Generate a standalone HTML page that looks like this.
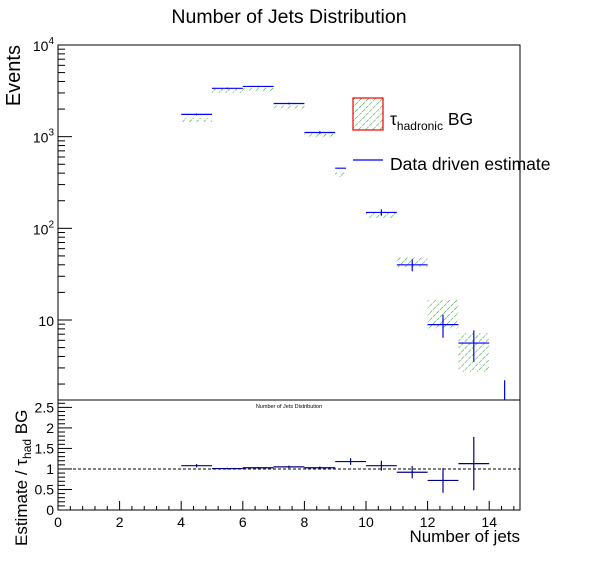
<!DOCTYPE html>
<html><head><meta charset="utf-8"><style>
body{margin:0;background:#fff;}
svg{display:block;font-family:"Liberation Sans",sans-serif;}
</style></head><body>
<svg id="c" width="596" height="572">
<defs><pattern id="hatch" patternUnits="userSpaceOnUse" width="5" height="5" patternTransform="rotate(45)"><line x1="0" y1="0" x2="0" y2="5" stroke="#229922" stroke-width="1" stroke-dasharray="3 1"/></pattern></defs>
<text x="289" y="23" text-anchor="middle" font-size="19.5">Number of Jets Distribution</text>
<text transform="translate(20,45) rotate(-90)" text-anchor="end" font-size="20">Events</text>
<text transform="translate(27,546) rotate(-90)" font-size="17">Estimate / τ<tspan font-size="12" dy="4">had</tspan><tspan dy="-4"> BG</tspan></text>
<text x="520" y="542" text-anchor="end" font-size="17">Number of jets</text>
<text x="289" y="408" text-anchor="middle" font-size="5.5">Number of Jets Distribution</text>
<g id="main"></g><g id="ratio"></g>
<rect x="346" y="86" width="250" height="96" fill="#fff"/>
<line x1="520" y1="86" x2="520" y2="182" stroke="#000"/>
<rect x="353" y="98" width="30" height="32" fill="url(#hatch)" stroke="#e00" stroke-width="1.2"/>
<text x="390" y="125" font-size="17.5">τ<tspan font-size="12" dy="5">hadronic</tspan><tspan dy="-5"> BG</tspan></text>
<line x1="353" y1="160" x2="383" y2="160" stroke="#00f" stroke-width="1.2"/>
<text x="390" y="170" font-size="17.5">Data driven estimate</text>
</svg>
<script>
const bins=[4,5,6,7,8,9,10,11,12,13,14];
const estimate=[1750,3370,3530,2300,1110,453,149,40,8.9,5.6,1.0];
const estimateErr=[40,60,60,50,35,22,12,6,2.5,2.1,1.2];
const bgValues=[1600,3330,3450,2200,1080,385,138,43,12.4,4.95];
const bgRelErr=[0.04,0.03,0.03,0.04,0.04,0.06,0.07,0.12,0.35,0.45];
const ratio=[1.08,1.01,1.03,1.05,1.03,1.18,1.08,0.92,0.72,1.13];
const ratioErr=[0.04,0.02,0.02,0.03,0.03,0.08,0.12,0.15,0.3,0.65];
const NS="http://www.w3.org/2000/svg";
const X0=58,X1=520,T=45,B=400,RT=400,RB=510;
const ymin=Math.log10(1.34),ymax=4,rmax=2.68;
const sx=v=>X0+(X1-X0)*v/15;
const sy=v=>B-(B-T)*(Math.log10(Math.max(v,1e-3))-ymin)/(ymax-ymin);
const ry=v=>RB-(RB-RT)*v/rmax;
function mk(p,tag,a){const e=document.createElementNS(NS,tag);for(const k in a)e.setAttribute(k,a[k]);p.appendChild(e);return e;}
const m=document.getElementById('main'),r=document.getElementById('ratio');
const clipM=mk(m,'clipPath',{id:'cm'});mk(clipM,'rect',{x:X0,y:T,width:X1-X0,height:B-T});
const gm=mk(m,'g',{'clip-path':'url(#cm)'});
bgValues.forEach((v,i)=>{
 let y1=sy(v*(1+bgRelErr[i])),y2=sy(v*(1-bgRelErr[i]));
 if(y2-y1<4){y1=sy(v);y2=y1+4;}
 const e=mk(gm,'rect',{x:sx(bins[i]),y:y1,width:sx(1)-sx(0),height:y2-y1,fill:'url(#hatch)'});
 
 
});
estimate.forEach((v,i)=>{
 const xc=sx(bins[i]+0.5);
 const g=mk(gm,'g',{stroke:'#00f','stroke-width':1.2});
 
 
 mk(g,'line',{x1:sx(bins[i]),x2:sx(bins[i]+1),y1:sy(v),y2:sy(v)});
 mk(g,'line',{x1:xc,x2:xc,y1:sy(v+estimateErr[i]),y2:sy(Math.max(v-estimateErr[i],0.01))});
});
const fm=mk(m,'rect',{x:X0,y:T,width:X1-X0,height:B-T,fill:'none',stroke:'#000'});

const yTicks=[[1e4,'10','4'],[1e3,'10','3'],[100,'10','2'],[10,'10','']];
for(let d=0;d<4;d++)for(let k=1;k<10;k++){const v=k*Math.pow(10,d);if(v<1.34)continue;const y=sy(v);mk(m,'line',{x1:X0,x2:X0+(k==1?14:7),y1:y,y2:y,stroke:'#000'});}
mk(m,'line',{x1:X0,x2:X0+14,y1:sy(1e4),y2:sy(1e4),stroke:'#000'});
yTicks.forEach(t=>{const e=mk(m,'text',{x:X0-4,y:sy(t[0])+6,'text-anchor':'end','font-size':14});e.textContent=t[1];
 if(t[2]){const s=mk(e,'tspan',{'font-size':10,dy:-7});s.textContent=t[2];}
 });
const fr=mk(r,'rect',{x:X0,y:RT,width:X1-X0,height:RB-RT,fill:'none',stroke:'#000'});

mk(r,'line',{x1:X0,x2:X1,y1:ry(1),y2:ry(1),stroke:'#000','stroke-dasharray':'3 2'});
for(let k=0;k<=26;k++){const v=k/10,y=ry(v);mk(r,'line',{x1:X0,x2:X0+(k%5==0?14:7),y1:y,y2:y,stroke:'#000'});}
const rLabels=['0','0.5','1','1.5','2','2.5'];
rLabels.forEach((l,i)=>{const e=mk(r,'text',{x:X0-4,y:ry(i*0.5)+5,'text-anchor':'end','font-size':14});e.textContent=l;
 });
ratio.forEach((v,i)=>{
 const xc=sx(bins[i]+0.5);
 const g=mk(r,'g',{stroke:'#00008b','stroke-width':1.2});
 
 
 mk(g,'line',{x1:sx(bins[i]),x2:sx(bins[i]+1),y1:ry(v),y2:ry(v)});
 mk(g,'line',{x1:xc,x2:xc,y1:ry(v+ratioErr[i]),y2:ry(v-ratioErr[i])});
});
for(let k=0;k<=37;k++){const v=k*0.4;if(v>15)break;const x=sx(v);mk(r,'line',{x1:x,x2:x,y1:RB,y2:RB-(k%5==0?9:4),stroke:'#000'});}
const xLabels=['0','2','4','6','8','10','12','14'];
xLabels.forEach((l,i)=>{const e=mk(r,'text',{x:sx(i*2),y:RB+17,'text-anchor':'middle','font-size':14});e.textContent=l;
 });
</script>
</body></html>
